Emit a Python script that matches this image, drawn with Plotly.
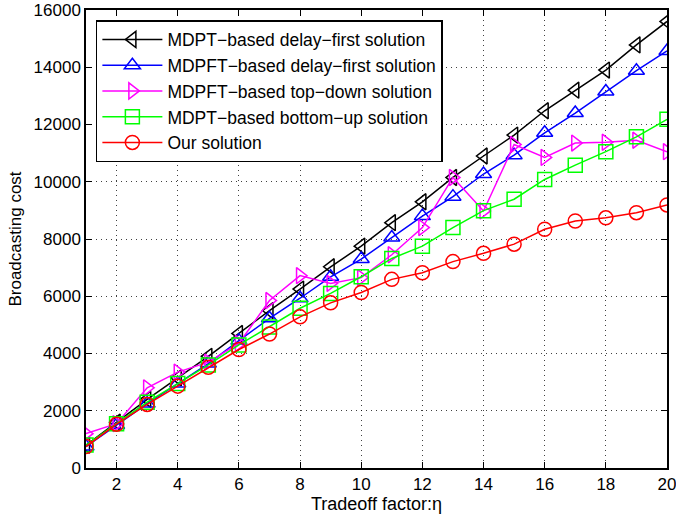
import plotly.graph_objects as go

eta = list(range(1, 21))

mdpt_delay_first = [800, 1600, 2400, 3150, 3900, 4700, 5500, 6250, 7030, 7750,
                    8570, 9300, 10150, 10900, 11630, 12480, 13200, 13900, 14780, 15600]
mdpft_delay_first = [750, 1500, 2250, 2950, 3650, 4450, 5230, 5930, 6680, 7300,
                     8050, 8800, 9480, 10270, 10930, 11710, 12400, 13150, 13880, 14570]
mdpft_top_down = [1200, 1550, 2800, 3350, 3700, 4350, 5850, 6720, 6450, 6650,
                  7450, 8400, 10150, 8980, 11300, 10850, 11350, 11380, 11450, 11050]
mdpt_bottom_up = [800, 1550, 2300, 2950, 3600, 4300, 4930, 5580, 6100, 6680,
                  7320, 7750, 8400, 8990, 9390, 10080, 10580, 11050, 11570, 12180]
our_solution = [750, 1530, 2220, 2860, 3520, 4140, 4680, 5280, 5770, 6130,
                6590, 6820, 7210, 7500, 7820, 8340, 8630, 8740, 8920, 9190]

x_ticks = list(range(2, 21, 2))
y_ticks = list(range(0, 16001, 2000))

series = [
    ("MDPT\u2212based delay\u2212first solution", mdpt_delay_first, "#000000", "triangle-left-open"),
    ("MDPFT\u2212based delay\u2212first solution", mdpft_delay_first, "#0000ff", "triangle-up-open"),
    ("MDPFT\u2212based top\u2212down solution", mdpft_top_down, "#ff00ff", "triangle-right-open"),
    ("MDPT\u2212based bottom\u2212up solution", mdpt_bottom_up, "#00ff00", "square-open"),
    ("Our solution", our_solution, "#ff0000", "circle-open"),
]

fig = go.Figure()
for name, ys, color, sym in series:
    fig.add_trace(go.Scatter(
        x=eta, y=ys, name=name, mode="lines+markers",
        line=dict(color=color, width=1.5),
        marker=dict(symbol=sym, size=14, color=color, line=dict(color=color, width=1.5)),
    ))

font = "Liberation Sans, Arial, Helvetica, sans-serif"
axis_common = dict(
    showline=True, linecolor="black", linewidth=1.5, mirror="ticks",
    ticks="inside", ticklen=6, tickcolor="black", tickwidth=1,
    showgrid=True, gridcolor="rgba(0,0,0,0.75)", griddash="1px,4px", gridwidth=1,
    zeroline=False, tickfont=dict(size=17, color="black", family=font),
    tickformat="d", automargin=False, ticklabeloverflow="allow",
)

fig.update_layout(
    template="none",
    width=676, height=519, autosize=False,
    margin=dict(l=86, r=9, t=10, b=51),
    paper_bgcolor="white", plot_bgcolor="white",
    font=dict(family=font, size=17, color="black"),
    xaxis=dict(range=[1, 20], tickvals=x_ticks,
               title=dict(text="Tradeoff factor:\u03b7", standoff=2, font=dict(size=18)),
               **axis_common),
    yaxis=dict(range=[0, 16000], tickvals=y_ticks,
               title=dict(text="Broadcasting cost", standoff=8, font=dict(size=17)),
               **axis_common),
    legend=dict(x=0.017, y=0.978, xanchor="left", yanchor="top",
                bgcolor="white", bordercolor="black", borderwidth=1.5,
                font=dict(size=17.5, family=font), tracegroupgap=0, itemwidth=60),
    showlegend=True,
)

fig.write_html("out.html",
               config={"displayModeBar": False, "responsive": False},
               post_script="document.body.style.margin='0';document.body.style.padding='0';document.body.style.overflow='hidden';")
